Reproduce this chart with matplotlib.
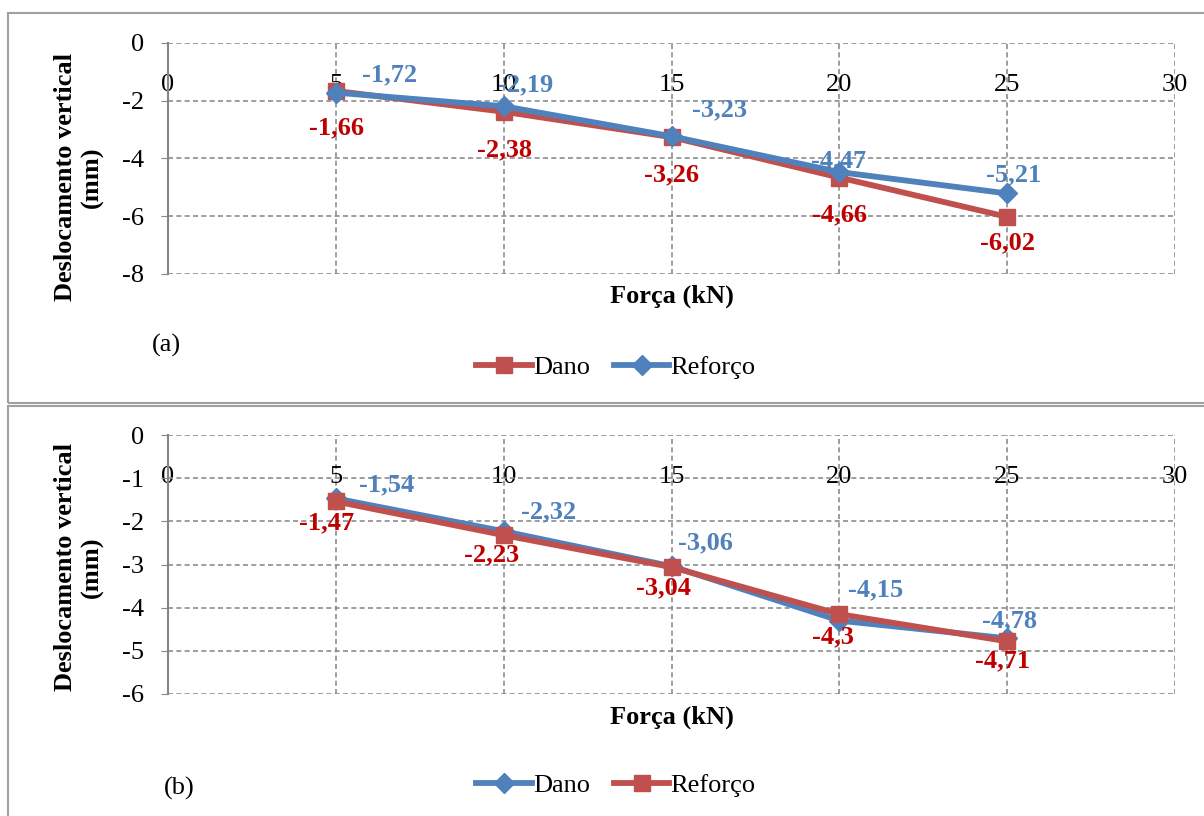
import matplotlib
matplotlib.use("Agg")
import matplotlib.pyplot as plt
from matplotlib.patches import Rectangle

plt.rcParams['font.family'] = ['Liberation Serif', 'DejaVu Serif']
plt.rcParams['axes.unicode_minus'] = False

# Data
forca = [5, 10, 15, 20, 25]
x_ticks = [0, 5, 10, 15, 20, 25, 30]

# panel (a)
dano_a = [-1.66, -2.38, -3.26, -4.66, -6.02]
reforco_a = [-1.72, -2.19, -3.23, -4.47, -5.21]
y_ticks_a = [0, -2, -4, -6, -8]

# panel (b)
dano_b = [-1.47, -2.23, -3.04, -4.30, -4.71]
reforco_b = [-1.54, -2.32, -3.06, -4.15, -4.78]
y_ticks_b = [0, -1, -2, -3, -4, -5, -6]

# label offsets in pixels (hand placed, as in the original)
off_a_dano = [(1, -37), (1, -38), (0, -38), (0, -37), (0, -26)]
off_a_ref = [(54, 18), (22, 21), (48, 26), (-1, 11), (6, 19)]
off_b_dano = [(-9, -24), (-12, -24), (-8, -22), (-6, -16), (-5, -22)]
off_b_ref = [(51, 17), (45, 23), (34, 24), (36, 24), (2, 21)]

RED = '#C0504D'
BLUE = '#4F81BD'
RED_TXT = '#C00000'
BLUE_TXT = '#4F81BD'
GRID = '#8C8C8C'
FS = 19

W, H = 1204, 816
fig = plt.figure(figsize=(W / 100, H / 100), dpi=100)


def fmt(v):
    return f"{v:g}".replace('.', ',')


def setup(ax, yticks, ylab_y):
    ax.set_xlim(0, 30)
    ax.set_ylim(min(yticks), 0)
    ax.set_xticks(x_ticks)
    ax.set_yticks(yticks)
    ax.grid(True, color=GRID, linestyle=(0, (3, 2)), linewidth=1.2)
    ax.set_axisbelow(True)
    for s in ['top', 'right', 'bottom']:
        ax.spines[s].set_visible(False)
    ax.spines['left'].set_color('#868686')
    ax.spines['left'].set_linewidth(1.5)
    ax.tick_params(axis='x', top=False, bottom=False, labeltop=True,
                   labelbottom=False, pad=-42, labelsize=FS)
    ax.tick_params(axis='y', length=5, color='#868686', pad=12, labelsize=FS)
    ax.set_xlabel('Força (kN)', fontsize=FS, fontweight='bold')
    ax.xaxis.set_label_coords(0.5, -0.045)
    ax.set_ylabel('Deslocamento vertical\n(mm)', fontsize=FS,
                  fontweight='bold', multialignment='center')
    ax.yaxis.set_label_coords(-0.064, ylab_y)


def labels(ax, vals, offs, color):
    for x, v, o in zip(forca, vals, offs):
        ax.annotate(fmt(v), (x, v), xytext=o, textcoords='offset pixels',
                    ha='center', va='center', color=color, fontsize=FS,
                    fontweight='bold', zorder=10)


# ---- panel (a)
ax_a = fig.add_axes([168 / W, 1 - 274 / H, 1007 / W, 231 / H])
setup(ax_a, y_ticks_a, 0.42)
ax_a.plot(forca, dano_a, color=RED, lw=4.2, marker='s', ms=12, label='Dano')
ax_a.plot(forca, reforco_a, color=BLUE, lw=4.2, marker='D', ms=10, label='Reforço')
labels(ax_a, dano_a, off_a_dano, RED_TXT)
labels(ax_a, reforco_a, off_a_ref, BLUE_TXT)
fig.legend(handles=ax_a.get_lines(), loc='center',
           bbox_to_anchor=(616 / W, 1 - 367 / H), ncol=2, frameon=False,
           fontsize=FS, handlelength=2.1, handletextpad=0.05, columnspacing=0.9)
fig.text(166 / W, 1 - 345 / H, '(a)', ha='center', va='center', fontsize=FS)

# ---- panel (b)
ax_b = fig.add_axes([168 / W, 1 - 694 / H, 1007 / W, 259 / H])
setup(ax_b, y_ticks_b, 0.49)
ax_b.plot(forca, dano_b, color=BLUE, lw=4.2, marker='D', ms=10, label='Dano')
ax_b.plot(forca, reforco_b, color=RED, lw=4.2, marker='s', ms=12, label='Reforço')
labels(ax_b, dano_b, off_b_dano, RED_TXT)
labels(ax_b, reforco_b, off_b_ref, BLUE_TXT)
fig.legend(handles=ax_b.get_lines(), loc='center',
           bbox_to_anchor=(616 / W, 1 - 785 / H), ncol=2, frameon=False,
           fontsize=FS, handlelength=2.1, handletextpad=0.05, columnspacing=0.9)
fig.text(179 / W, 1 - 788 / H, '(b)', ha='center', va='center', fontsize=FS)

# panel frames
fig.add_artist(Rectangle((8 / W, 1 - 403 / H), 1.0, 390 / H, fill=False,
                         ec='#A0A0A0', lw=1.5, transform=fig.transFigure))
fig.add_artist(Rectangle((8 / W, -0.02), 1.0, 1 - 406 / H + 0.02, fill=False,
                         ec='#A0A0A0', lw=1.5, transform=fig.transFigure))

plt.savefig('out.png', dpi=100)
